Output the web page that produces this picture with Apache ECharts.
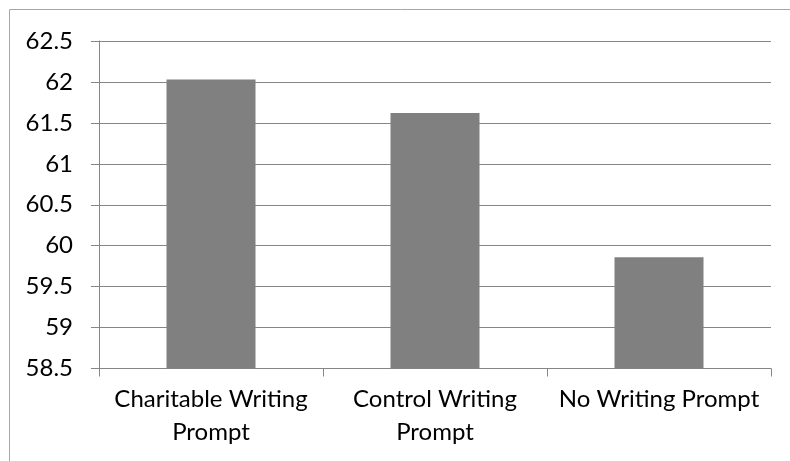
<!DOCTYPE html>
<html>
<head>
<meta charset="utf-8">
<script src="https://cdn.jsdelivr.net/npm/echarts@6/dist/echarts.min.js"></script>
<style>
html,body{margin:0;padding:0;background:#fff;}
#chart{width:790px;height:461px;}
</style>
</head>
<body>
<div id="chart"></div>
<script>
const categories = ['Charitable Writing\nPrompt', 'Control Writing\nPrompt', 'No Writing Prompt'];
const values = [62.03, 61.62, 59.86];
const yMin = 58.5, yMax = 62.5, yStep = 0.5;

const chart = echarts.init(document.getElementById('chart'), null, {renderer: 'canvas'});
const font = 'Lato, "Open Sans", sans-serif';
chart.setOption({
  animation: false,
  backgroundColor: '#ffffff',
  graphic: [{
    type: 'rect',
    shape: {x: 9.5, y: 9.5, width: 1000, height: 1000},
    style: {fill: 'none', stroke: '#a6a6a6', lineWidth: 1},
    silent: true
  }],
  grid: {left: 99, right: 19, top: 41, bottom: 92.5, containLabel: false},
  xAxis: {
    type: 'category',
    data: categories,
    axisLine: {lineStyle: {color: '#868686', width: 1}},
    axisTick: {show: true, length: 8, lineStyle: {color: '#868686'}},
    axisLabel: {color: '#000', fontSize: 24, fontFamily: font, margin: 14, lineHeight: 33, interval: 0}
  },
  yAxis: {
    type: 'value',
    min: yMin, max: yMax, interval: yStep,
    axisLine: {show: true, lineStyle: {color: '#868686', width: 1}},
    axisTick: {show: true, length: 8, lineStyle: {color: '#868686'}},
    splitLine: {show: true, lineStyle: {color: '#868686', width: 1}},
    axisLabel: {color: '#000', fontSize: 24, fontFamily: font, margin: 26,
      formatter: v => String(Math.round(v * 10) / 10)}
  },
  series: [{
    type: 'bar',
    data: values,
    barWidth: 89,
    itemStyle: {color: '#808080'}
  }]
});
</script>
</body>
</html>
